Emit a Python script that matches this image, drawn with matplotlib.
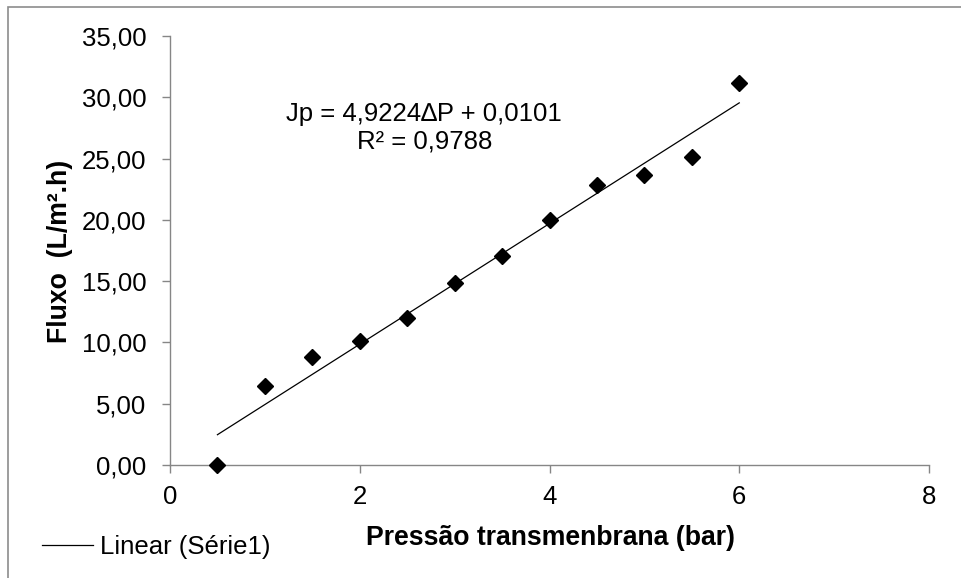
import matplotlib
matplotlib.use("Agg")
import matplotlib.pyplot as plt
from matplotlib.patches import Rectangle
from matplotlib.lines import Line2D
from matplotlib.ticker import FuncFormatter
import numpy as np

# ===== DADOS =====
pressao = [0.5, 1.0, 1.5, 2.0, 2.5, 3.0, 3.5, 4.0, 4.5, 5.0, 5.5, 6.0]
fluxo = [0.00, 6.45, 8.85, 10.10, 12.00, 14.85, 17.05, 20.00, 22.85, 23.63, 25.15, 31.18]

# coeficientes da linha de tendência (como no rótulo)
inclinacao = 4.9224
intercepto = 0.0101
r2 = 0.9788

x_ticks = [0, 2, 4, 6, 8]
y_ticks = [0, 5, 10, 15, 20, 25, 30, 35]

plt.rcParams["font.family"] = ["Liberation Sans", "DejaVu Sans"]
FS = 18.5
FS_EIXO = 19.2
CINZA = "#868686"

fig = plt.figure(figsize=(9.61, 5.78), dpi=100)
ax = fig.add_axes([170 / 961, 113 / 578, 759 / 961, 429 / 578])

# linha de tendência
xt = np.array([min(pressao), max(pressao)])
ax.plot(xt, inclinacao * xt + intercepto, color="black", lw=0.9, zorder=2)

# pontos
ax.plot(pressao, fluxo, linestyle="none", marker="D", markersize=8.5,
        color="black", zorder=3, clip_on=False)

ax.set_xlim(0, 8)
ax.set_ylim(0, 35)
ax.set_xticks(x_ticks)
ax.set_yticks(y_ticks)
ax.yaxis.set_major_formatter(FuncFormatter(lambda v, p: f"{v:.2f}".replace(".", ",")))

for lado in ["top", "right"]:
    ax.spines[lado].set_visible(False)
for lado in ["left", "bottom"]:
    ax.spines[lado].set_color(CINZA)
    ax.spines[lado].set_linewidth(1.0)

ax.tick_params(axis="y", direction="out", length=5.5, width=1.0, color=CINZA,
               labelsize=FS, pad=11.5)
ax.tick_params(axis="x", direction="out", length=5.5, width=1.0, color=CINZA,
               labelsize=FS, pad=9)

# equação
ax.text(0.335, (465 - 128) / 429,
        f"Jp = {inclinacao:.4f}∆P + {intercepto:.4f}".replace(".", ",")
        + "\n" + f"R² = {r2:.4f}".replace(".", ","),
        transform=ax.transAxes, ha="center", va="center", fontsize=FS,
        linespacing=1.18)

# rótulos dos eixos
fig.text(550 / 961, 1 - 538 / 578, "Pressão transmenbrana (bar)",
         ha="center", va="center", fontsize=FS_EIXO, fontweight="bold")
fig.text(60 / 961, 1 - 251 / 578, "Fluxo  (L/m².h)", rotation=90,
         ha="center", va="center", fontsize=FS_EIXO, fontweight="bold")

# legenda
h = Line2D([], [], color="black", lw=0.9)
fig.legend([h], ["Linear (Série1)"], loc="center left",
           bbox_to_anchor=(42 / 961, 1 - 547 / 578), frameon=False,
           fontsize=FS, handlelength=2.0, handletextpad=0.27,
           borderpad=0, borderaxespad=0)

# borda da área do gráfico
fig.patches.append(Rectangle((8 / 961, -0.1), 1.2, 1 - 6.5 / 578 + 0.1,
                             transform=fig.transFigure, fill=False,
                             edgecolor="#8c8c8c", lw=1.2))

fig.savefig("out.png", dpi=100, facecolor="white")
